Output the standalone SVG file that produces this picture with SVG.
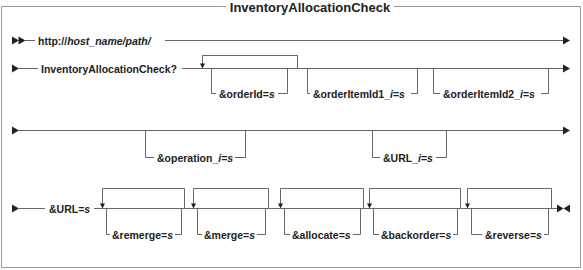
<svg xmlns="http://www.w3.org/2000/svg" width="583" height="270" viewBox="0 0 583 270">
<style>
text{font-family:"Liberation Sans",Arial,sans-serif;font-weight:bold;font-size:10.5px;fill:#222}
.title{font-size:13px}
.i{font-style:italic}
.ln{fill:none;stroke:#666;stroke-width:1}
.bd{fill:none;stroke:#999;stroke-width:1}
.ah{fill:#222}
</style>
<defs>
<path id="end" d="M0,-4 L7,0 L0,4 Z"/>
<path id="dn" d="M-2.5,-5 L2.5,-5 L0,0 Z"/>
<path id="st" d="M0,-4 L7,0 L0,4 Z"/>
</defs>
<g id="frame">
<path class="bd" d="M226,6.5 H1.5 V267.5 H580.5 V6.5 H394"/>
</g>
<g id="title"><text class="title" x="310" y="11.5" text-anchor="middle">InventoryAllocationCheck</text></g>
<g id="connectors">
<use href="#st" class="ah" x="12" y="40.5"/>
<use href="#st" class="ah" x="18.5" y="40.5"/>
<path class="ln" d="M25,40.5 H35 M165,40.5 H564"/>
<use href="#end" class="ah" x="563" y="40.5"/>
<use href="#st" class="ah" x="12" y="68.5"/>
<path class="ln" d="M19,68.5 H38 M182,68.5 H564"/>
<use href="#end" class="ah" x="563" y="68.5"/>
<path class="ln" d="M202.5,64 V55.5 H297.5 V68.5"/>
<use href="#dn" class="ah" x="202.5" y="68.5"/>
<path class="ln" d="M211.5,68.5 V93.5 H216 M278,93.5 H287.5 V68.5"/>
<path class="ln" d="M307.5,68.5 V93.5 H310 M411,93.5 H417.5 V68.5"/>
<path class="ln" d="M433.5,68.5 V93.5 H440 M541,93.5 H548.5 V68.5"/>
<use href="#st" class="ah" x="12" y="130.5"/>
<path class="ln" d="M19,130.5 H564"/>
<use href="#end" class="ah" x="563" y="130.5"/>
<path class="ln" d="M145.5,130.5 V157.5 H154 M235,157.5 H245.5 V130.5"/>
<path class="ln" d="M372.5,130.5 V157.5 H380 M436,157.5 H446.5 V130.5"/>
<use href="#st" class="ah" x="12" y="208.5"/>
<path class="ln" d="M19,208.5 H45 M94,208.5 H557"/>
<path class="ah" d="M557,204.5 L563.5,208.5 L557,212.5 Z M570,204.5 L563.5,208.5 L570,212.5 Z"/>
<path class="ln" d="M102.5,204 V188.5 H184.5 V208.5"/>
<use href="#dn" class="ah" x="102.5" y="208.5"/>
<path class="ln" d="M106.5,208.5 V234.5 H110 M175,234.5 H181.5 V208.5"/>
<path class="ln" d="M193.5,204 V188.5 H268.5 V208.5"/>
<use href="#dn" class="ah" x="193.5" y="208.5"/>
<path class="ln" d="M197.5,208.5 V234.5 H202 M257,234.5 H265.5 V208.5"/>
<path class="ln" d="M280.5,204 V188.5 H363.5 V208.5"/>
<use href="#dn" class="ah" x="280.5" y="208.5"/>
<path class="ln" d="M284.5,208.5 V234.5 H290 M353,234.5 H360.5 V208.5"/>
<path class="ln" d="M369.5,204 V188.5 H460.5 V208.5"/>
<use href="#dn" class="ah" x="369.5" y="208.5"/>
<path class="ln" d="M373.5,208.5 V234.5 H379 M453,234.5 H457.5 V208.5"/>
<path class="ln" d="M467.5,204 V188.5 H551.5 V208.5"/>
<use href="#dn" class="ah" x="467.5" y="208.5"/>
<path class="ln" d="M471.5,208.5 V234.5 H482 M544,234.5 H548.5 V208.5"/>
</g>
<g id="n-url"><text x="38" y="44.5">http://<tspan class="i">host_name/path/</tspan></text></g>
<g id="n-cmd"><text x="41" y="72.5">InventoryAllocationCheck?</text></g>
<g id="n-orderId"><text x="219" y="97.5">&amp;orderId=<tspan class="i">s</tspan></text></g>
<g id="n-orderItemId1"><text x="313" y="97.5">&amp;orderItemId1_<tspan class="i">i</tspan>=<tspan class="i">s</tspan></text></g>
<g id="n-orderItemId2"><text x="443" y="97.5">&amp;orderItemId2_<tspan class="i">i</tspan>=<tspan class="i">s</tspan></text></g>
<g id="n-operation"><text x="157" y="161.5">&amp;operation_<tspan class="i">i</tspan>=<tspan class="i">s</tspan></text></g>
<g id="n-URLi"><text x="383" y="161.5">&amp;URL_<tspan class="i">i</tspan>=<tspan class="i">s</tspan></text></g>
<g id="n-URL"><text x="49" y="212.5">&amp;URL=<tspan class="i">s</tspan></text></g>
<g id="n-remerge"><text x="112" y="238.5">&amp;remerge=<tspan class="i">s</tspan></text></g>
<g id="n-merge"><text x="204" y="238.5">&amp;merge=<tspan class="i">s</tspan></text></g>
<g id="n-allocate"><text x="292" y="238.5">&amp;allocate=<tspan class="i">s</tspan></text></g>
<g id="n-backorder"><text x="381" y="238.5">&amp;backorder=<tspan class="i">s</tspan></text></g>
<g id="n-reverse"><text x="485" y="238.5">&amp;reverse=<tspan class="i">s</tspan></text></g>
</svg>
